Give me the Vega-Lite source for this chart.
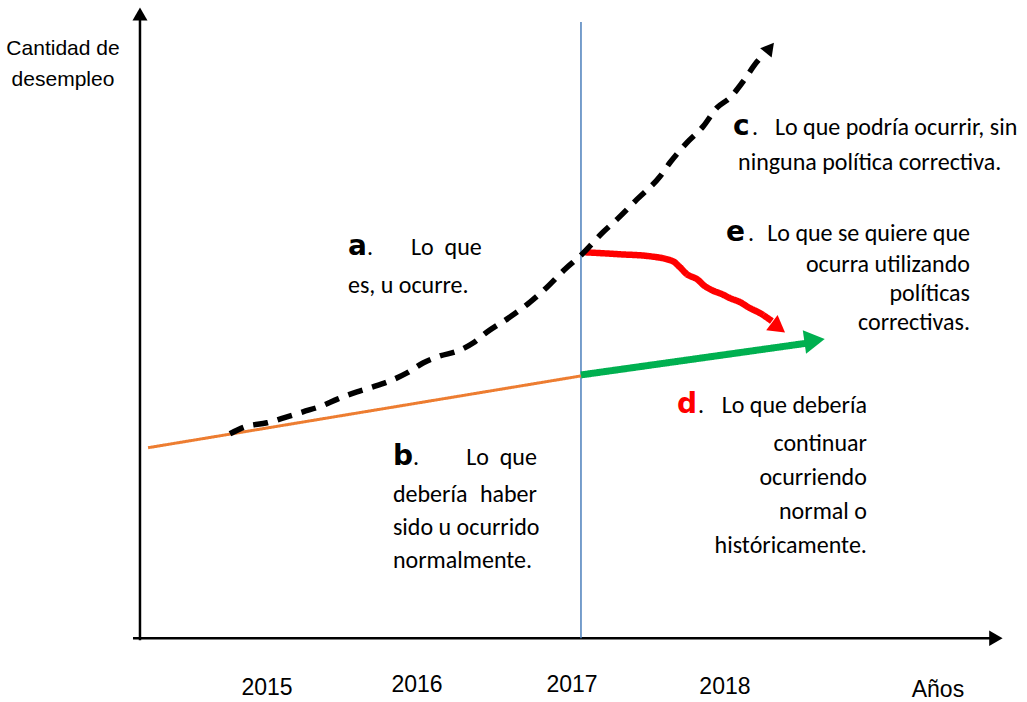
{
  "$schema": "https://vega.github.io/schema/vega-lite/v6.json",
  "width": 1027,
  "height": 702,
  "autosize": {"type": "fit", "contains": "padding"},
  "padding": 0,
  "background": "white",
  "config": {"view": {"stroke": null}},
  "datasets": {
    "lineas": [
      {"serie": "eje_y", "i": 0, "x": 2014.167, "y": -0.4},
      {"serie": "eje_y", "i": 1, "x": 2014.167, "y": 124.0},
      {"serie": "eje_x", "i": 0, "x": 2014.121, "y": 0},
      {"serie": "eje_x", "i": 1, "x": 2019.741, "y": 0},
      {"serie": "2017", "i": 0, "x": 2017.059, "y": 0},
      {"serie": "2017", "i": 1, "x": 2017.059, "y": 123.6},
      {"serie": "normal", "i": 0, "x": 2014.220, "y": 38.2},
      {"serie": "normal", "i": 1, "x": 2017.059, "y": 52.6},
      {"serie": "continuar", "i": 0, "x": 2017.059, "y": 52.8},
      {"serie": "continuar", "i": 1, "x": 2018.548, "y": 59.2},
      {"serie": "deseada", "i": 0, "x": 2017.085, "y": 77.4},
      {"serie": "deseada", "i": 1, "x": 2017.315, "y": 77.0},
      {"serie": "deseada", "i": 2, "x": 2017.511, "y": 76.6},
      {"serie": "deseada", "i": 3, "x": 2017.662, "y": 75.6},
      {"serie": "deseada", "i": 4, "x": 2017.708, "y": 74.4},
      {"serie": "deseada", "i": 5, "x": 2017.754, "y": 73.0},
      {"serie": "deseada", "i": 6, "x": 2017.820, "y": 72.0},
      {"serie": "deseada", "i": 7, "x": 2017.872, "y": 70.6},
      {"serie": "deseada", "i": 8, "x": 2017.918, "y": 69.8},
      {"serie": "deseada", "i": 9, "x": 2017.984, "y": 69.0},
      {"serie": "deseada", "i": 10, "x": 2018.036, "y": 68.2},
      {"serie": "deseada", "i": 11, "x": 2018.102, "y": 67.4},
      {"serie": "deseada", "i": 12, "x": 2018.167, "y": 66.2},
      {"serie": "deseada", "i": 13, "x": 2018.233, "y": 65.2},
      {"serie": "deseada", "i": 14, "x": 2018.311, "y": 63.6},
      {"serie": "ocurre", "i": 0, "x": 2014.757, "y": 41.0},
      {"serie": "ocurre", "i": 1, "x": 2014.856, "y": 42.4},
      {"serie": "ocurre", "i": 2, "x": 2015.000, "y": 43.2},
      {"serie": "ocurre", "i": 3, "x": 2015.131, "y": 44.4},
      {"serie": "ocurre", "i": 4, "x": 2015.236, "y": 45.4},
      {"serie": "ocurre", "i": 5, "x": 2015.361, "y": 46.6},
      {"serie": "ocurre", "i": 6, "x": 2015.466, "y": 48.0},
      {"serie": "ocurre", "i": 7, "x": 2015.590, "y": 49.4},
      {"serie": "ocurre", "i": 8, "x": 2015.695, "y": 50.4},
      {"serie": "ocurre", "i": 9, "x": 2015.807, "y": 51.6},
      {"serie": "ocurre", "i": 10, "x": 2015.918, "y": 53.2},
      {"serie": "ocurre", "i": 11, "x": 2016.023, "y": 55.2},
      {"serie": "ocurre", "i": 12, "x": 2016.134, "y": 56.6},
      {"serie": "ocurre", "i": 13, "x": 2016.252, "y": 57.6},
      {"serie": "ocurre", "i": 14, "x": 2016.351, "y": 59.2},
      {"serie": "ocurre", "i": 15, "x": 2016.443, "y": 61.4},
      {"serie": "ocurre", "i": 16, "x": 2016.593, "y": 64.4},
      {"serie": "ocurre", "i": 17, "x": 2016.725, "y": 67.4},
      {"serie": "ocurre", "i": 18, "x": 2016.843, "y": 70.6},
      {"serie": "ocurre", "i": 19, "x": 2016.954, "y": 74.0},
      {"serie": "ocurre", "i": 20, "x": 2017.059, "y": 76.8},
      {"serie": "ocurre", "i": 21, "x": 2017.203, "y": 81.4},
      {"serie": "ocurre", "i": 22, "x": 2017.295, "y": 84.0},
      {"serie": "ocurre", "i": 23, "x": 2017.426, "y": 88.0},
      {"serie": "ocurre", "i": 24, "x": 2017.577, "y": 92.6},
      {"serie": "ocurre", "i": 25, "x": 2017.643, "y": 95.4},
      {"serie": "ocurre", "i": 26, "x": 2017.754, "y": 99.4},
      {"serie": "ocurre", "i": 27, "x": 2017.859, "y": 102.6},
      {"serie": "ocurre", "i": 28, "x": 2017.951, "y": 106.4},
      {"serie": "ocurre", "i": 29, "x": 2018.036, "y": 108.4},
      {"serie": "ocurre", "i": 30, "x": 2018.121, "y": 111.6},
      {"serie": "ocurre", "i": 31, "x": 2018.213, "y": 115.6},
      {"serie": "ocurre", "i": 32, "x": 2018.266, "y": 117.4}
    ],
    "flechas": [
      {"serie": "eje_y", "x": 2014.167, "y": 125.2, "angulo": 0},
      {"serie": "eje_x", "x": 2019.780, "y": 0, "angulo": 90},
      {"serie": "ocurre", "x": 2018.298, "y": 118.4, "angulo": 39},
      {"serie": "deseada", "x": 2018.354, "y": 62.3, "angulo": 127},
      {"serie": "continuar", "x": 2018.591, "y": 59.7, "angulo": 82}
    ],
    "letras": [
      {"texto": "a", "x": 2015.531, "y": 76.8},
      {"texto": "b", "x": 2015.826, "y": 34.8},
      {"texto": "c", "x": 2018.056, "y": 101.0},
      {"texto": "e", "x": 2018.010, "y": 79.6},
      {"texto": "d", "x": 2017.689, "y": 45.2}
    ],
    "izquierda": [
      {"texto": ".", "x": 2015.656, "y": 76.8},
      {"texto": "Lo\u00a0 que", "x": 2015.944, "y": 76.8},
      {"texto": "es, u ocurre.", "x": 2015.531, "y": 69.2},
      {"texto": ".", "x": 2015.957, "y": 34.8},
      {"texto": "debería", "x": 2015.826, "y": 27.4},
      {"texto": "sido u ocurrido", "x": 2015.826, "y": 20.6},
      {"texto": "normalmente.", "x": 2015.826, "y": 14.0},
      {"texto": ".", "x": 2018.180, "y": 101.0},
      {"texto": "Lo que podría ocurrir, sin", "x": 2018.331, "y": 101.0},
      {"texto": "ninguna política correctiva.", "x": 2018.089, "y": 94.0},
      {"texto": ".", "x": 2018.154, "y": 79.6},
      {"texto": ".", "x": 2017.826, "y": 45.2}
    ],
    "derecha": [
      {"texto": "Lo\u00a0 que", "x": 2016.770, "y": 34.8},
      {"texto": "haber", "x": 2016.770, "y": 27.4},
      {"texto": "Lo que se quiere que", "x": 2019.610, "y": 79.6},
      {"texto": "ocurra utilizando", "x": 2019.610, "y": 73.4},
      {"texto": "políticas", "x": 2019.610, "y": 67.6},
      {"texto": "correctivas.", "x": 2019.610, "y": 61.8},
      {"texto": "Lo que debería", "x": 2018.934, "y": 45.2},
      {"texto": "continuar", "x": 2018.934, "y": 37.6},
      {"texto": "ocurriendo", "x": 2018.934, "y": 30.8},
      {"texto": "normal o", "x": 2018.934, "y": 24.0},
      {"texto": "históricamente.", "x": 2018.934, "y": 17.0}
    ],
    "titulo_y": [
      {"texto": "Cantidad de", "x": 2013.662, "y": 117.0},
      {"texto": "desempleo", "x": 2013.662, "y": 110.8}
    ],
    "anios": [
      {"texto": "2015", "x": 2015.000, "y": -11.4},
      {"texto": "2016", "x": 2015.984, "y": -10.8},
      {"texto": "2017", "x": 2017.000, "y": -10.8},
      {"texto": "2018", "x": 2018.003, "y": -11.2},
      {"texto": "Años", "x": 2019.400, "y": -11.8}
    ]
  },
  "encoding": {
    "x": {"field": "x", "type": "quantitative", "scale": {"domain": [2013.249, 2019.984], "nice": false, "zero": false}, "axis": null},
    "y": {"field": "y", "type": "quantitative", "scale": {"domain": [-12.4, 128], "nice": false, "zero": false}, "axis": null}
  },
  "layer": [
    {
      "data": {"name": "lineas"},
      "mark": {"type": "line", "interpolate": "monotone", "strokeCap": "butt", "strokeJoin": "round"},
      "encoding": {
        "order": {"field": "i", "type": "quantitative"},
        "color": {"field": "serie", "type": "nominal", "legend": null,
          "scale": {"domain": ["eje_x", "eje_y", "2017", "normal", "continuar", "deseada", "ocurre"],
                    "range": ["#000000", "#000000", "#4A7EBB", "#ED7D31", "#00B050", "#FF0000", "#000000"]}},
        "strokeWidth": {"field": "serie", "type": "nominal", "legend": null,
          "scale": {"type": "ordinal", "domain": ["eje_x", "eje_y", "2017", "normal", "continuar", "deseada", "ocurre"],
                    "range": [2.5, 2.5, 1.5, 3, 7, 6.5, 5.5]}},
        "strokeDash": {"field": "serie", "type": "nominal", "legend": null,
          "scale": {"domain": ["eje_x", "eje_y", "2017", "normal", "continuar", "deseada", "ocurre"],
                    "range": [[1, 0], [1, 0], [1, 0], [1, 0], [1, 0], [1, 0], [15, 10]]}}
      }
    },
    {
      "data": {"name": "flechas"},
      "mark": {"type": "point", "shape": "triangle-up", "filled": true, "opacity": 1, "strokeWidth": 0},
      "encoding": {
        "angle": {"field": "angulo", "type": "quantitative", "scale": null},
        "color": {"field": "serie", "type": "nominal", "legend": null,
          "scale": {"domain": ["eje_x", "eje_y", "2017", "normal", "continuar", "deseada", "ocurre"],
                    "range": ["#000000", "#000000", "#4A7EBB", "#ED7D31", "#00B050", "#FF0000", "#000000"]}},
        "size": {"field": "serie", "type": "nominal", "legend": null,
          "scale": {"type": "ordinal", "domain": ["eje_x", "eje_y", "ocurre", "deseada", "continuar"],
                    "range": [240, 225, 220, 360, 560]}}
      }
    },
    {
      "data": {"name": "letras"},
      "mark": {"type": "text", "align": "left", "baseline": "alphabetic", "font": "DejaVu Sans", "fontWeight": "bold", "fontSize": 28},
      "encoding": {
        "text": {"field": "texto"},
        "color": {"condition": {"test": "datum.texto === 'd'", "value": "#FF0000"}, "value": "#000000"}
      }
    },
    {
      "data": {"name": "izquierda"},
      "mark": {"type": "text", "align": "left", "baseline": "alphabetic", "font": "Carlito, Lato", "fontSize": 24, "color": "#000000"},
      "encoding": {"text": {"field": "texto"}}
    },
    {
      "data": {"name": "derecha"},
      "mark": {"type": "text", "align": "right", "baseline": "alphabetic", "font": "Carlito, Lato", "fontSize": 24, "color": "#000000"},
      "encoding": {"text": {"field": "texto"}}
    },
    {
      "data": {"name": "titulo_y"},
      "mark": {"type": "text", "align": "center", "baseline": "alphabetic", "font": "Liberation Sans", "fontSize": 21, "color": "#000000"},
      "encoding": {"text": {"field": "texto"}}
    },
    {
      "data": {"name": "anios"},
      "mark": {"type": "text", "align": "center", "baseline": "alphabetic", "font": "Liberation Sans", "fontSize": 23, "color": "#000000"},
      "encoding": {"text": {"field": "texto"}}
    }
  ]
}
